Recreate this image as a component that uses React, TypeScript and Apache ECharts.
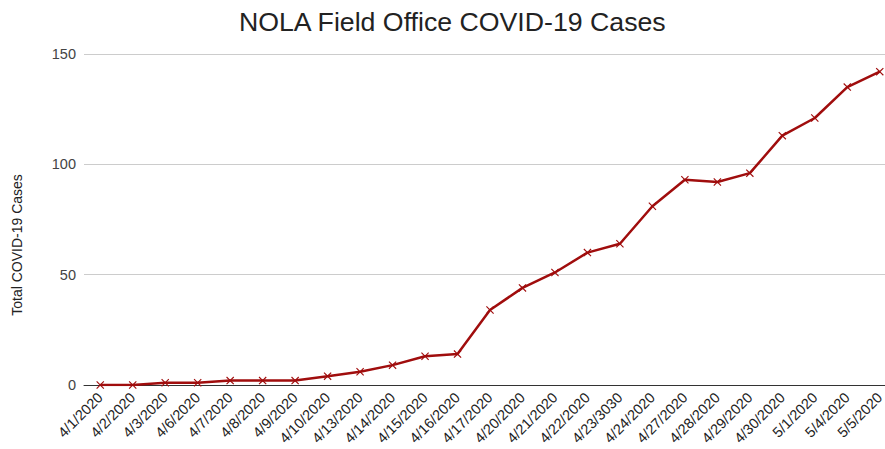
import React, { useEffect, useRef } from "react";
import * as echarts from "echarts";

const categories = [
  "4/1/2020", "4/2/2020", "4/3/2020", "4/6/2020", "4/7/2020", "4/8/2020", "4/9/2020",
  "4/10/2020", "4/13/2020", "4/14/2020", "4/15/2020", "4/16/2020", "4/17/2020",
  "4/20/2020", "4/21/2020", "4/22/2020", "4/23/3030", "4/24/2020", "4/27/2020",
  "4/28/2020", "4/29/2020", "4/30/2020", "5/1/2020", "5/4/2020", "5/5/2020",
];
const cases = [0, 0, 1, 1, 2, 2, 2, 4, 6, 9, 13, 14, 34, 44, 51, 60, 64, 81, 93, 92, 96, 113, 121, 135, 142];
const yTicks = [0, 50, 100, 150];
const yAxisTitle = "Total COVID-19 Cases";

const FONT = "'Liberation Sans', Arial, sans-serif";
const X_SYMBOL =
  "path://M1,0L5,4L9,0L10,1L6,5L10,9L9,10L5,6L1,10L0,9L4,5L0,1Z";

export default function App() {
  const ref = useRef<HTMLDivElement>(null);
  useEffect(() => {
    if (!ref.current) return;
    const chart = echarts.init(ref.current, undefined, { renderer: "svg" });
    chart.setOption({
      animation: false,
      backgroundColor: "#fff",
      title: {
        text: "NOLA Field Office COVID-19 Cases",
        left: 234,
        top: 3,
        textStyle: { fontFamily: FONT, fontSize: 26.7, fontWeight: "normal", color: "#222" },
      },
      graphic: [
        {
          type: "text",
          x: 17,
          y: 245,
          rotation: Math.PI / 2,
          style: {
            text: yAxisTitle,
            fontFamily: FONT,
            fontSize: 14,
            fill: "#222",
            align: "center",
            verticalAlign: "middle",
          },
        },
      ],
      grid: { left: 84, right: 0, top: 54, bottom: 64, containLabel: false },
      xAxis: {
        type: "category",
        data: categories,
        boundaryGap: true,
        axisLine: { show: true, lineStyle: { color: "#333", width: 1 } },
        axisTick: { show: false },
        axisLabel: {
          interval: 0,
          rotate: 45,
          fontFamily: FONT,
          fontSize: 14.5,
          color: "#222",
          margin: 10,
        },
      },
      yAxis: {
        type: "value",
        min: 0,
        max: yTicks[yTicks.length - 1],
        interval: 50,
        axisLine: { show: false },
        axisTick: { show: false },
        axisLabel: { fontFamily: FONT, fontSize: 14.5, color: "#444", margin: 8 },
        splitLine: { lineStyle: { color: "#ccc", width: 1 } },
      },
      series: [
        {
          type: "line",
          data: cases,
          symbol: X_SYMBOL,
          symbolSize: 8,
          showAllSymbol: true,
          lineStyle: { color: "#a00d0d", width: 2.5 },
          itemStyle: { color: "#a00d0d" },
          z: 3,
        },
      ],
    });
    return () => chart.dispose();
  }, []);
  return (
    <div
      ref={ref}
      style={{ position: "fixed", left: 0, top: 0, width: 896, height: 449 }}
    />
  );
}
